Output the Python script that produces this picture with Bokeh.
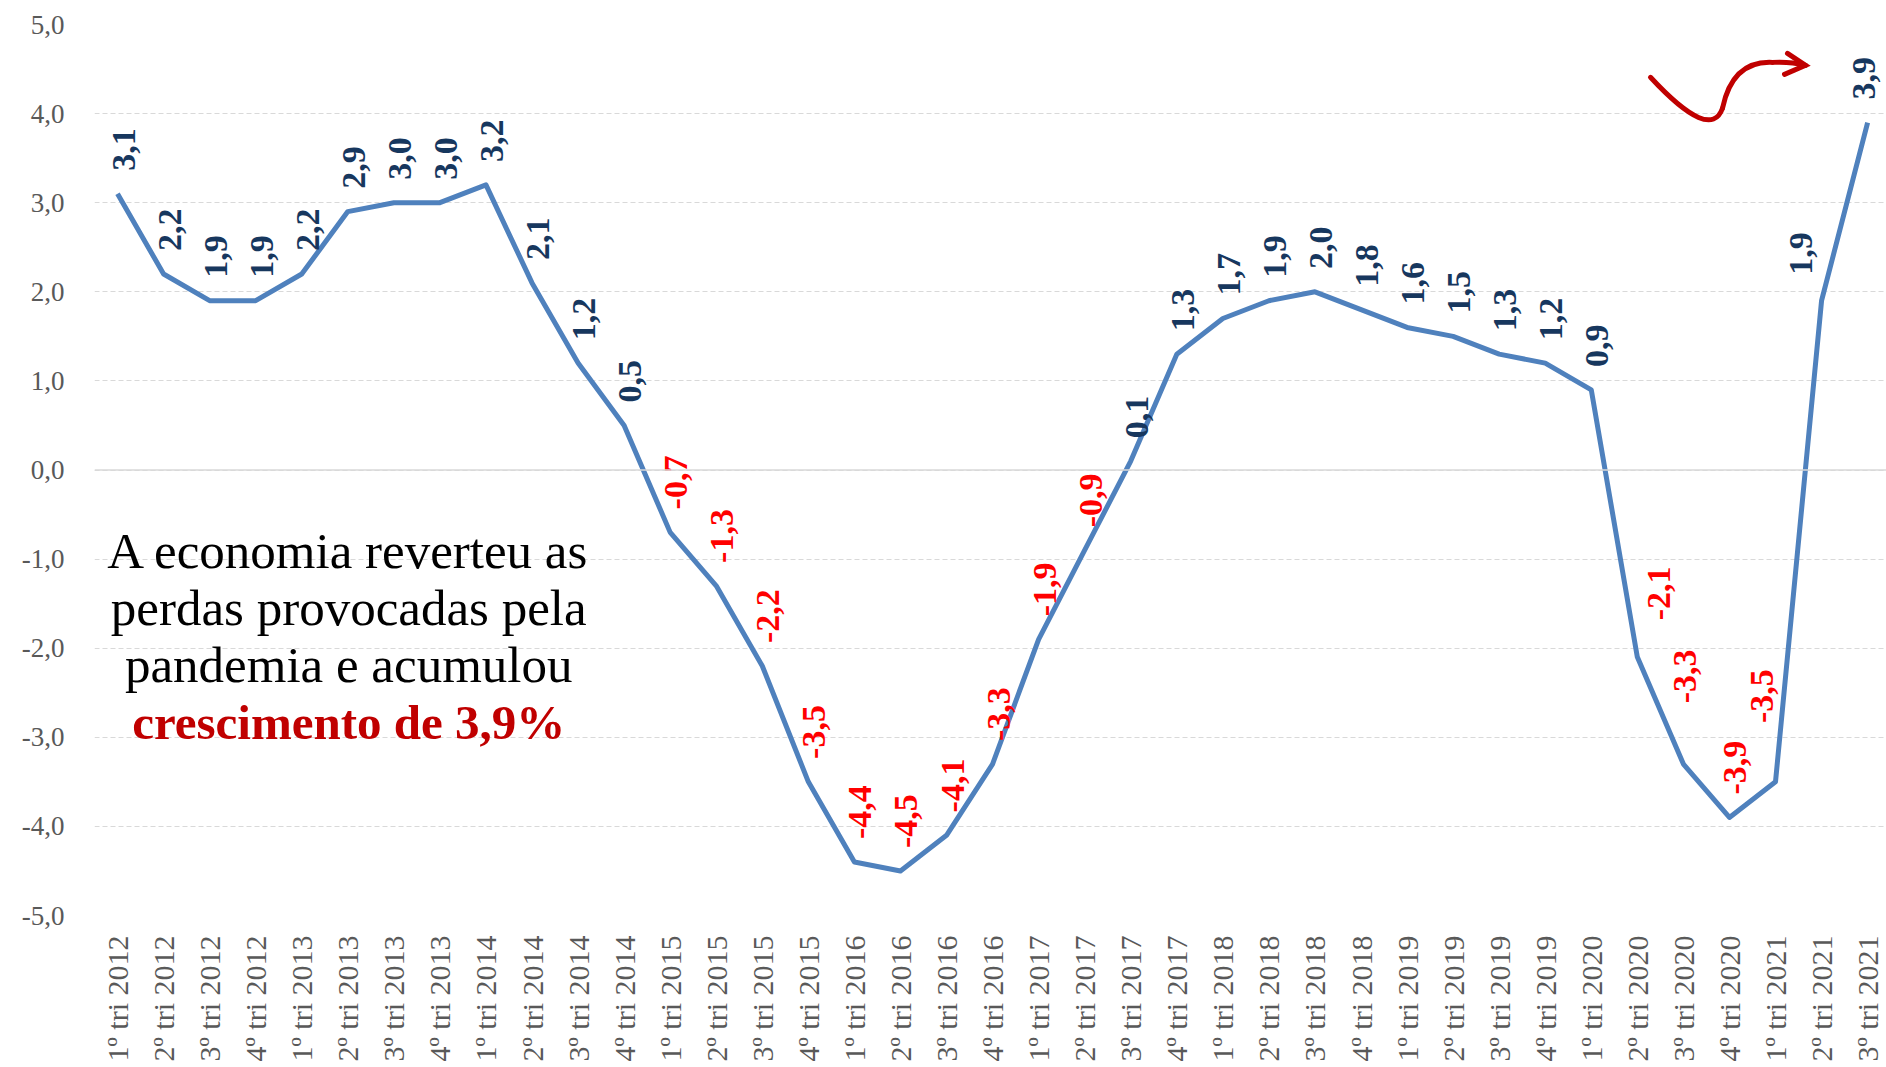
import math
from bokeh.plotting import figure
from bokeh.models import ColumnDataSource, Range1d, FixedTicker, Label, Span
from bokeh.core.properties import value
from bokeh.embed import file_html
from bokeh.resources import INLINE

# ---------------- data ----------------
quarters = ["1º", "2º", "3º", "4º"]
years = [2012, 2013, 2014, 2015, 2016, 2017, 2018, 2019, 2020, 2021]
categories = [f"{q} tri {y}" for y in years for q in quarters][:39]

growth = [3.1, 2.2, 1.9, 1.9,
          2.2, 2.9, 3.0, 3.0,
          3.2, 2.1, 1.2, 0.5,
          -0.7, -1.3, -2.2, -3.5,
          -4.4, -4.5, -4.1, -3.3,
          -1.9, -0.9, 0.1, 1.3,
          1.7, 1.9, 2.0, 1.8,
          1.6, 1.5, 1.3, 1.2,
          0.9, -2.1, -3.3, -3.9,
          -3.5, 1.9, 3.9]

y_ticks = [-5, -4, -3, -2, -1, 0, 1, 2, 3, 4, 5]
y_tick_labels = [f"{t:.1f}".replace(".", ",") for t in y_ticks]

annotation_lines = ["A economia reverteu as", "perdas provocadas pela", "pandemia e acumulou"]
annotation_highlight = "crescimento de 3,9%"

# ---------------- styling / layout ----------------
LINE_COLOR = "#4F81BD"
POS_COLOR = "#17375E"
NEG_COLOR = "#FF0000"
RED = "#C00000"
TICK_COLOR = "#595959"
GRID_COLOR = "#D9D9D9"
SERIF = "Liberation Serif"

W, H = 1886, 1064
BORDER_L, BORDER_T, BORDER_B = 94, 24, 146
X_END = 38.41
Y_MIN, Y_MAX = -5, 5
frame_h = H - BORDER_T - BORDER_B
px_per_y = frame_h / (Y_MAX - Y_MIN)
px_per_x = (W - BORDER_L) / (X_END + 0.5)

# label placement (pixels): gap above point, horizontal shift
label_gap = [23] * 39
label_dx = [6] * 39
for i, g, d in [(33, 37, 22), (34, 61, 2), (36, 59, -14), (37, 26, -21), (38, 23, -4)]:
    label_gap[i] = g
    label_dx[i] = d

p = figure(width=W, height=H, output_backend="svg", toolbar_location=None,
           x_range=Range1d(-0.5, X_END), y_range=Range1d(Y_MIN, Y_MAX),
           min_border_left=BORDER_L, min_border_right=0, min_border_top=BORDER_T,
           min_border_bottom=BORDER_B)
p.outline_line_color = None
p.background_fill_color = "white"

xs = list(range(len(categories)))

p.add_layout(Span(location=0, dimension="width", line_color=GRID_COLOR, line_width=1.5))

src = ColumnDataSource(dict(x=xs, y=growth))
p.line("x", "y", source=src, line_color=LINE_COLOR, line_width=5, line_join="round")

# data labels
lab_text = [f"{v:.1f}".replace(".", ",") for v in growth]
lab_color = [POS_COLOR if v >= 0 else NEG_COLOR for v in growth]
lab_src = ColumnDataSource(dict(
    x=[x + d / px_per_x for x, d in zip(xs, label_dx)],
    y=[v + g / px_per_y for v, g in zip(growth, label_gap)],
    t=lab_text, c=lab_color))
p.text("x", "y", text="t", source=lab_src, angle=math.pi / 2, text_align="left",
       text_baseline="middle", text_color="c", text_font=value(SERIF),
       text_font_style="bold", text_font_size="34px")

# axes
p.xaxis.ticker = FixedTicker(ticks=xs)
p.xaxis.major_label_overrides = {i: c for i, c in enumerate(categories)}
p.xaxis.major_label_orientation = math.pi / 2
p.yaxis.ticker = FixedTicker(ticks=y_ticks)
p.yaxis.major_label_overrides = {t: s for t, s in zip(y_ticks, y_tick_labels)}
for ax in (p.xaxis, p.yaxis):
    ax.axis_line_color = None
    ax.major_tick_line_color = None
    ax.minor_tick_line_color = None
    ax.major_tick_out = 0
    ax.major_label_text_font = SERIF
    ax.major_label_text_color = TICK_COLOR
p.xaxis.major_label_text_font_size = "30px"
p.xaxis.major_label_standoff = 20
p.yaxis.major_label_text_font_size = "27px"
p.yaxis.major_label_standoff = 30

p.xgrid.visible = False
p.ygrid.grid_line_color = GRID_COLOR
p.ygrid.grid_line_dash = "5 3"
p.ygrid.grid_line_width = 1

# annotation text
ann_x = 5.02
ann_y = [-0.91, -1.55, -2.19]
for line, yy in zip(annotation_lines, ann_y):
    p.add_layout(Label(x=ann_x, y=yy, text=line, text_align="center",
                       text_baseline="alphabetic", text_font=SERIF,
                       text_font_size="51px", text_color="#000000"))
p.add_layout(Label(x=ann_x, y=-2.83, text=annotation_highlight, text_align="center",
                   text_baseline="alphabetic", text_font=SERIF, text_font_style="bold",
                   text_font_size="49px", text_color=RED))

# decorative arrow (pixel sketch converted to data space)
def dx(px):
    return (px - BORDER_L) / px_per_x - 0.5

def dy(py):
    return Y_MAX - (py - BORDER_T) / px_per_y

p.quadratic(x0=[dx(1650)], y0=[dy(77)], x1=[dx(1722)], y1=[dy(108)],
            cx=[dx(1710)], cy=[dy(142)], line_color=RED, line_width=5, line_cap="round")
p.quadratic(x0=[dx(1722)], y0=[dy(108)], x1=[dx(1772)], y1=[dy(62)],
            cx=[dx(1732)], cy=[dy(60)], line_color=RED, line_width=5, line_cap="round")
p.quadratic(x0=[dx(1772)], y0=[dy(62)], x1=[dx(1805)], y1=[dy(65)],
            cx=[dx(1790)], cy=[dy(61)], line_color=RED, line_width=5, line_cap="round")
p.line([dx(1787), dx(1805), dx(1784)], [dy(53), dy(65), dy(74)],
       line_color=RED, line_width=5, line_cap="round", line_join="miter")

open("out.html", "w").write(file_html(p, INLINE))
